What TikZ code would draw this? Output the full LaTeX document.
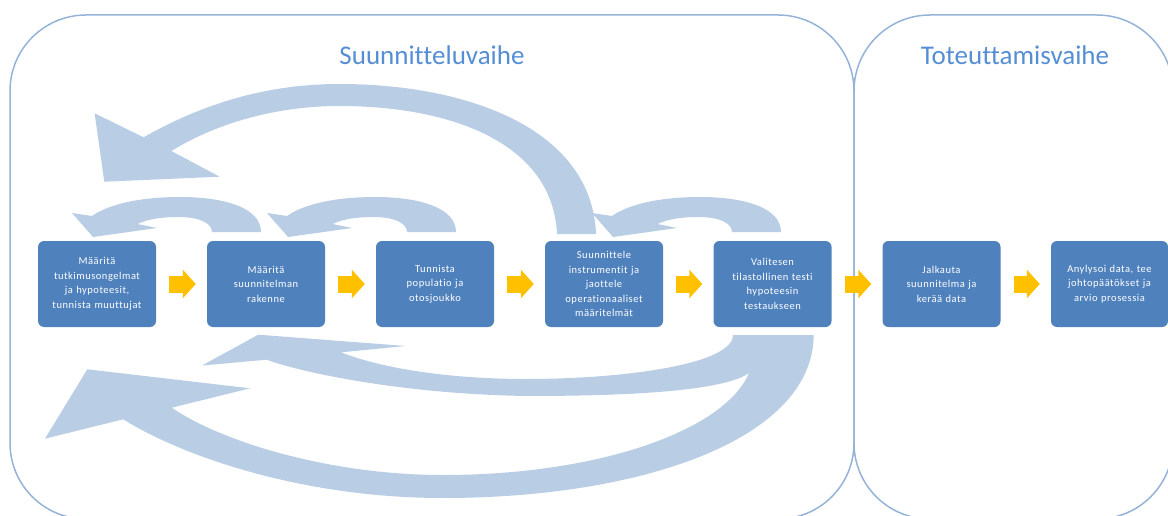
\documentclass[tikz,border=0pt]{standalone}
\usepackage{fontspec}
\setmainfont[Ligatures=NoCommon]{Carlito}
\newfontfamily\laatikkofont[LetterSpace=5, Ligatures=NoCommon]{Carlito}
\usetikzlibrary{arrows.meta}
\definecolor{laatikko}{HTML}{4F81BD}
\definecolor{kehys}{HTML}{95B3D7}
\definecolor{otsikko}{HTML}{558ED5}
\definecolor{kaari}{HTML}{B9CDE5}
\definecolor{nuoli}{HTML}{FFC000}
\begin{document}
\begin{tikzpicture}[x=1pt, y=-1pt,
  vaihe/.style={rectangle, rounded corners=6pt, fill=laatikko, text=white, minimum width=118pt, minimum height=86pt, text width=116pt, align=center, inner sep=0pt, font=\laatikkofont\fontsize{10.5}{14.5}\selectfont},
  eteen/.style={line width=17pt, draw=nuoli, -{Triangle[length=13pt,width=28pt]}, shorten <=13pt, shorten >=11pt},
  kehysviiva/.style={draw=kehys, line width=1.5pt, rounded corners=76pt},
  paluu/.style={fill=kaari},
  otsikkoteksti/.style={text=otsikko, font=\fontsize{27}{32}\selectfont, anchor=base}]
\useasboundingbox (0,0) rectangle (1168,516);
\clip (0,0) rectangle (1168,516);
\draw[kehysviiva] (10,15) rectangle (854,519);
\draw[kehysviiva] (854,15) rectangle (1173,519);
\node[otsikkoteksti] (suunnittelu) at (432,65) {Suunnitteluvaihe};
\node[otsikkoteksti] (toteutus) at (1015,65) {Toteuttamisvaihe};
\fill[paluu] (596,234) .. controls (592,130) and (470,84) .. (339,84) .. controls (260,84) and (195,108) .. (143.6,137.3) -- (94.6,113.3) -- (104.3,181.7) -- (219.6,176.7) -- (171.4,151) .. controls (215,124) and (275,106) .. (339,106) .. controls (455,106) and (553,145) .. (557,234) -- cycle;
\foreach \dx in {0,195,520}
  \fill[paluu, xshift=\dx] (261,232) .. controls (261,208) and (225,197) .. (180,197) .. controls (135,197) and (106,206) .. (92,216) -- (72,213) -- (93,237) -- (157,228) -- (137.5,224) .. controls (148,219) and (162,217) .. (178,217) .. controls (199,217) and (212,223) .. (212,232) -- cycle;
\fill[paluu] (813.7,335) .. controls (813,440) and (640,498) .. (443,498) .. controls (300,498) and (180,455) .. (123.3,419.3) -- (45,438.7) -- (87.3,369.3) -- (250,388.3) -- (171.7,407.7) .. controls (222,442) and (330,475) .. (443,475) .. controls (600,475) and (725,430) .. (749,373) -- (760,335) -- cycle;
\fill[paluu] (733,335) .. controls (733,365) and (620,379) .. (527,379) .. controls (440,379) and (375,366) .. (341,352.3) -- (405.7,346) -- (258.3,334.7) -- (202,365.5) -- (266.7,359.7) .. controls (300,372) and (400,394) .. (527,396) .. controls (640,396) and (725,390) .. (749,373) -- (775,335) -- cycle;
\node[vaihe] (v1) at (97,284) {Määritä\\tutkimusongelmat\\ja hypoteesit,\\tunnista muuttujat};
\node[vaihe] (v2) at (266,284) {Määritä\\suunnitelman\\rakenne};
\node[vaihe] (v3) at (435,284) {Tunnista\\populatio ja\\otosjoukko};
\node[vaihe] (v4) at (604,284) {Suunnittele\\instrumentit ja\\jaottele\\operationaaliset\\määritelmät};
\node[vaihe] (v5) at (772.5,284) {Valitesen\\tilastollinen testi\\hypoteesin\\testaukseen};
\node[vaihe] (v6) at (941.5,284) {Jalkauta\\suunnitelma ja\\kerää data};
\node[vaihe, minimum width=117pt] (v7) at (1109.5,284) {Anylysoi data, tee\\johtopäätökset ja\\arvio prosessia};
\draw[eteen] (v1) -- (v2);
\draw[eteen] (v2) -- (v3);
\draw[eteen] (v3) -- (v4);
\draw[eteen] (v4) -- (v5);
\draw[eteen] (v5) -- (v6);
\draw[eteen] (v6) -- (v7);
\end{tikzpicture}
\end{document}
